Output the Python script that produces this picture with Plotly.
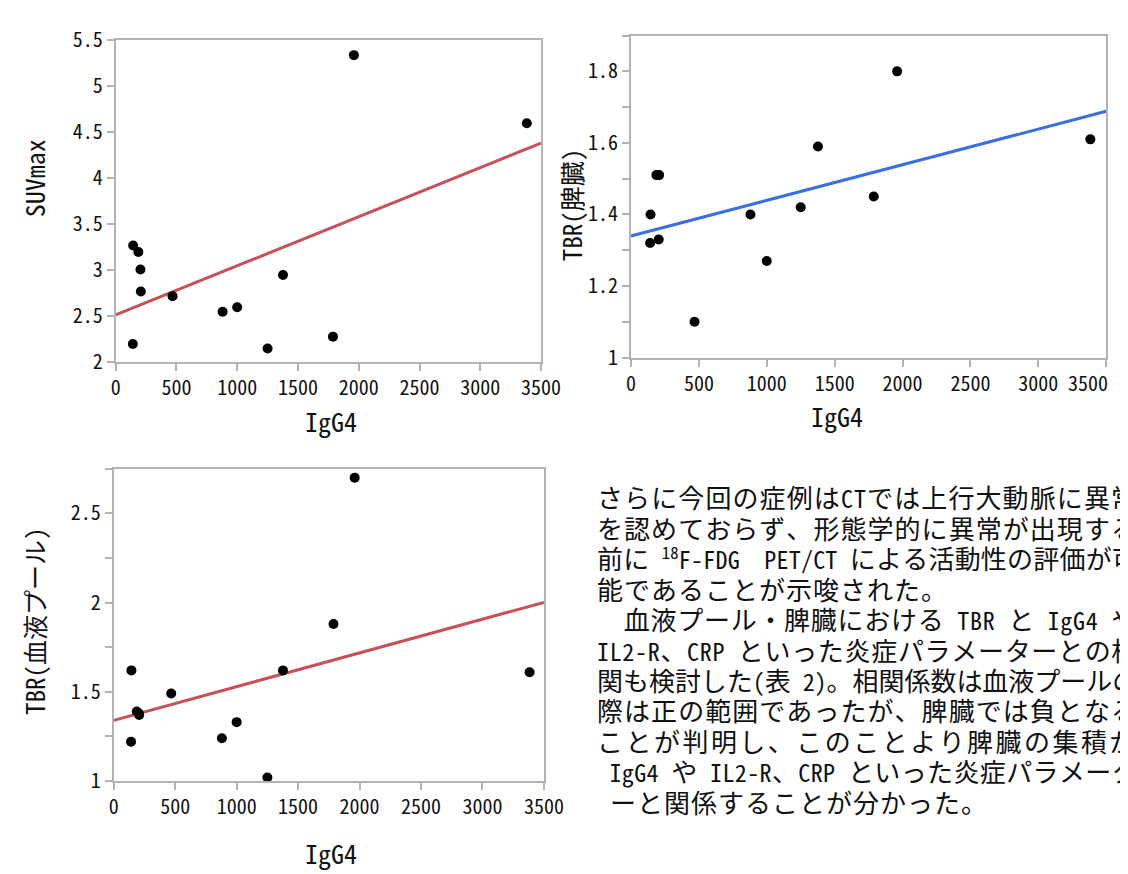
import re
import numpy as np
import plotly.graph_objects as go

# ---------------- data ----------------
igg4 = [141, 144, 187, 204, 207, 468, 880, 1000, 1250, 1377, 1788, 1960, 3383]
suvmax = [2.20, 3.27, 3.20, 3.01, 2.77, 2.72, 2.55, 2.60, 2.15, 2.95, 2.28, 5.34, 4.60]
tbr_spleen = [1.32, 1.40, 1.51, 1.33, 1.51, 1.10, 1.40, 1.27, 1.42, 1.59, 1.45, 1.80, 1.61]
tbr_blood = [1.22, 1.62, 1.39, 1.38, 1.37, 1.49, 1.24, 1.33, 1.02, 1.62, 1.88, 2.70, 1.61]

x_tickvals = [0, 500, 1000, 1500, 2000, 2500, 3000, 3500]
x_ticktext = ["0", "500", "1000", "1500", "2000", "2500", "3000", "3500"]

x_title = "IgG4"
y_titles = ["SUVmax", "TBR(脾臓)", "TBR(血液プール)"]

body_lines = [
    "さらに今回の症例はCTでは上行大動脈に異常",
    "を認めておらず、形態学的に異常が出現する",
    "前に <sup>18</sup>F-FDG  PET/CT による活動性の評価が可",
    "能であることが示唆された。",
    "　血液プール・脾臓における TBR と IgG4 や",
    "IL2-R、CRP といった炎症パラメーターとの相",
    "関も検討した(表 2)。相関係数は血液プールの",
    "際は正の範囲であったが、脾臓では負となる",
    "ことが判明し、このことより脾臓の集積が",
    " IgG4 や IL2-R、CRP といった炎症パラメータ",
    " ーと関係することが分かった。",
]
# lines that end a paragraph are not stretched to the column width
paragraph_end = [False, False, False, True, False, False, False, False, False, False, True]

W, H = 1128, 874
RED = "#c8505a"
BLUE = "#3a6fe2"
GRAY = "#b3b3b3"
MONO = "Noto Sans Mono CJK JP, Noto Sans CJK JP, Liberation Mono"

CJK_SIZE = 26
LATIN_SIZE = 24
COL_LEFT, COL_RIGHT = 597, 1138


def px_x(p):
    return p / W


def px_y(p):
    return 1 - p / H


def fit_line(x, y):
    m, b = np.polyfit(np.array(x, float), np.array(y, float), 1)
    xs = np.array([0.0, 3500.0])
    return xs, m * xs + b


def natural_width(line):
    """approximate width in px: CJK full width, ASCII half width (smaller font)."""
    w, n = 0.0, 0
    for part in re.split(r'(<sup>[^<]*</sup>)', line):
        if part.startswith("<sup>"):
            txt = part[5:-6]
            w += len(txt) * 0.5 * LATIN_SIZE * 0.7
            n += len(txt)
        else:
            for ch in part:
                w += 0.5 * LATIN_SIZE if ord(ch) < 128 else CJK_SIZE
                n += 1
    return w, n


def typeset(line, justify):
    w, n = natural_width(line)
    ls = (COL_RIGHT - COL_LEFT - w) / n if justify else 1.0

    def wrap(m):
        return '<span style="font-size:%dpx">%s</span>' % (LATIN_SIZE, m.group(0))
    body = re.sub(r'(?:<sup>[^<]*</sup>|[\x20-\x7e])+', wrap, line)
    return '<span style="letter-spacing:%.2fpx">%s</span>' % (ls, body)


fig = go.Figure()

series = [
    (suvmax, RED, "x", "y"),
    (tbr_spleen, BLUE, "x2", "y2"),
    (tbr_blood, RED, "x3", "y3"),
]
for yvals, col, xa, ya in series:
    lx, ly = fit_line(igg4, yvals)
    fig.add_trace(go.Scatter(x=lx, y=ly, mode="lines", line=dict(color=col, width=3),
                             xaxis=xa, yaxis=ya, showlegend=False, hoverinfo="skip"))
    fig.add_trace(go.Scatter(x=igg4, y=yvals, mode="markers",
                             marker=dict(color="black", size=10),
                             xaxis=xa, yaxis=ya, showlegend=False))

TICKFONT = dict(family=MONO, size=20, color="#111")


def axstyle(**kw):
    d = dict(showline=True, linecolor=GRAY, linewidth=2, mirror=True,
             ticks="outside", ticklen=7, tickwidth=2, tickcolor=GRAY,
             showgrid=False, zeroline=False, tickfont=TICKFONT)
    d.update(kw)
    return d


xcommon = dict(range=[0, 3500], tickmode="array", tickvals=x_tickvals)
# the last label of the right-hand chart is drawn separately (nudged inside the page)
ticktext_right = x_ticktext[:-1] + [""]

fig.update_layout(
    width=W, height=H, autosize=False,
    margin=dict(l=0, r=0, t=0, b=0),
    paper_bgcolor="white", plot_bgcolor="white",
    xaxis=axstyle(domain=[px_x(105), px_x(540)], anchor="y", ticktext=x_ticktext, **xcommon),
    yaxis=axstyle(domain=[px_y(350), px_y(17)], anchor="x", range=[2, 5.5], tick0=2, dtick=0.5),
    xaxis2=axstyle(domain=[px_x(632), px_x(1118)], anchor="y2", ticktext=ticktext_right, **xcommon),
    yaxis2=axstyle(domain=[px_y(345), px_y(12)], anchor="x2", range=[1, 1.9], tick0=1, dtick=0.2,
                   minor=dict(dtick=0.1, ticks="outside", ticklen=7, tickwidth=2, tickcolor=GRAY, showgrid=False)),
    xaxis3=axstyle(domain=[px_x(103), px_x(543)], anchor="y3", ticktext=x_ticktext, **xcommon),
    yaxis3=axstyle(domain=[px_y(783), px_y(460)], anchor="x3", range=[1, 2.75], tick0=1, dtick=0.5,
                   minor=dict(dtick=0.25, ticks="outside", ticklen=7, tickwidth=2, tickcolor=GRAY, showgrid=False)),
)

annotations = []
# last tick label of the right chart
annotations.append(dict(text=x_ticktext[-1], x=x_tickvals[-1], xref="x2", y=1.0, yref="y2",
                        xanchor="right", yanchor="top", xshift=4, yshift=-8, showarrow=False,
                        font=TICKFONT))
# axis titles
for (xp, yp) in [(325, 410), (843, 405), (325, 857)]:
    annotations.append(dict(text=x_title, x=px_x(xp), y=px_y(yp), xref="paper", yref="paper",
                            showarrow=False, xanchor="center", yanchor="middle",
                            font=dict(family=MONO, size=26, color="#111")))
for t, (xp, yp), sz in zip(y_titles, [(21, 160), (570, 187), (22, 618)], [26, 25, 25]):
    annotations.append(dict(text=t, x=px_x(xp), y=px_y(yp), xref="paper", yref="paper",
                            showarrow=False, xanchor="center", yanchor="middle", textangle=-90,
                            font=dict(family=MONO, size=sz, color="#111")))

# body text
y0, step = 489, 31.5
for i, (line, pend) in enumerate(zip(body_lines, paragraph_end)):
    annotations.append(dict(text=typeset(line, not pend), x=px_x(COL_LEFT - 2), y=px_y(y0 + i * step),
                            xref="paper", yref="paper",
                            showarrow=False, xanchor="left", yanchor="middle", align="left",
                            font=dict(family=MONO, size=CJK_SIZE, color="#111")))

fig.update_layout(annotations=annotations)

fig.write_html("out.html")
